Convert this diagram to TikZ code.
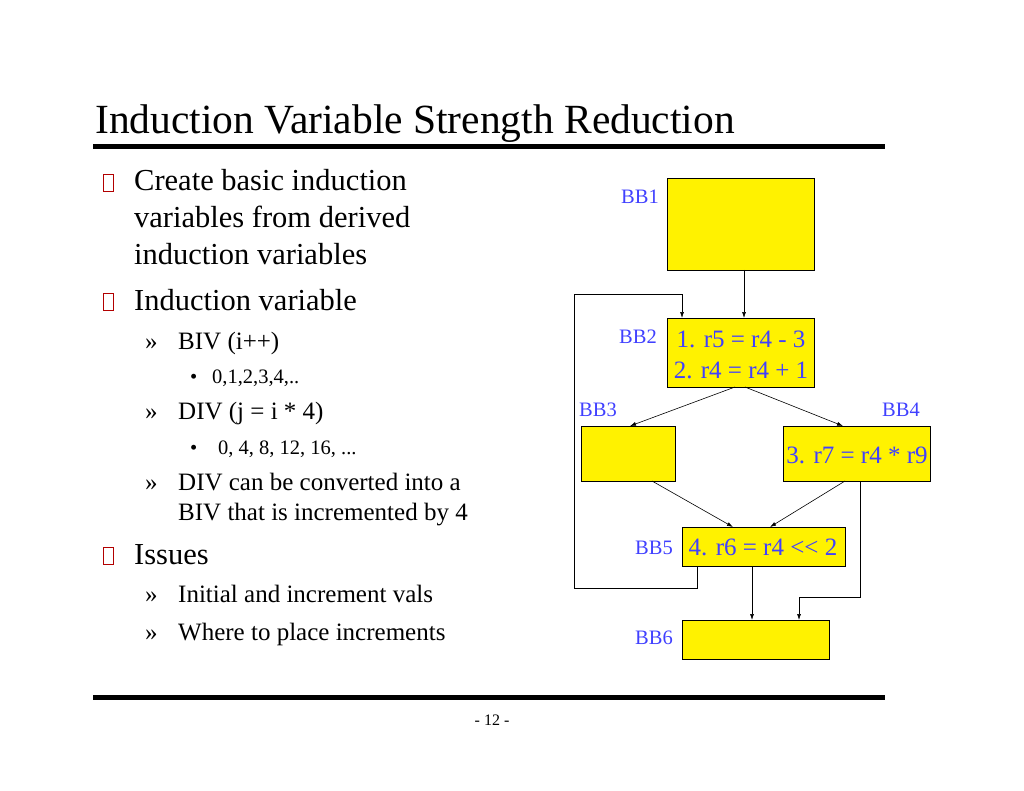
\documentclass[tikz,border=0pt]{standalone}
\usepackage{fontspec}
\setmainfont{Liberation Serif}
\usetikzlibrary{arrows.meta}
\begin{document}
\begin{tikzpicture}[x=1pt,y=-1pt]
\useasboundingbox (0,0) rectangle (1024,791);

% Styles for the slide text and for the flow graph
\tikzstyle{title}=[font=\fontsize{41.5}{44}\selectfont, anchor=base west, inner sep=0]
\tikzstyle{lvlA}=[font=\fontsize{30.5}{34}\selectfont, anchor=base west, inner sep=0]
\tikzstyle{lvlB}=[font=\fontsize{25}{28}\selectfont, anchor=base west, inner sep=0]
\tikzstyle{lvlC}=[font=\fontsize{20.5}{24}\selectfont, anchor=base west, inner sep=0]
\tikzstyle{bb}=[draw=black, fill=yellow, line width=0.8pt]
\tikzstyle{bbname}=[font=\fontsize{20.5}{24}\selectfont, text=blue!75!white, inner sep=0]
\tikzstyle{code}=[font=\fontsize{25}{28}\selectfont, text=blue!75!white, inner sep=0]
\tikzstyle{flow}=[-{Latex[length=6pt,width=4pt]}, line width=0.6pt]

% Title and rules
\node[title] (ttl) at (95,134) {Induction Variable Strength Reduction};
\draw[line width=5pt] (93,147) -- (885,147);
\draw[line width=5pt] (93,697) -- (885,697);
\node[font=\fontsize{16}{18}\selectfont] (pg) at (492,720) {- 12 -};

% This command draws one first level bullet (an empty glyph box)
\newcommand{\boxbullet}[2]{
\draw[red!70!black, line width=0.8pt] (#1-5,#2-17) rectangle ++(10,17);
}

% Bullet text
\boxbullet{108}{191}
\node[lvlA] (t1) at (134,191) {Create basic induction};
\node[lvlA] (t2) at (134,228) {variables from derived};
\node[lvlA] (t3) at (134,265) {induction variables};
\boxbullet{108}{310}
\node[lvlA] (t4) at (134,310) {Induction variable};
\node[lvlB] (b5) at (145,349) {»}; \node[lvlB] (t5) at (178,349) {BIV (i++)};
\node[lvlC] (b6) at (190,383) {\textbullet}; \node[lvlC] (t6) at (212,383) {0,1,2,3,4,..};
\node[lvlB] (b7) at (145,419) {»}; \node[lvlB] (t7) at (178,419) {DIV (j = i * 4)};
\node[lvlC] (b8) at (190,454) {\textbullet}; \node[lvlC] (t8) at (218,454) {0, 4, 8, 12, 16, ...};
\node[lvlB] (b9) at (145,490) {»}; \node[lvlB] (t9) at (178,490) {DIV can be converted into a};
\node[lvlB] (t10) at (178,520) {BIV that is incremented by 4};
\boxbullet{108}{564}
\node[lvlA] (t11) at (134,564) {Issues};
\node[lvlB] (b12) at (145,602) {»}; \node[lvlB] (t12) at (178,602) {Initial and increment vals};
\node[lvlB] (b13) at (145,640) {»}; \node[lvlB] (t13) at (178,640) {Where to place increments};

% Basic blocks
\draw[bb] (667,178) rectangle (814,270);
\coordinate (bb1s) at (744,270);
\draw[bb] (667,318) rectangle (814,387);
\coordinate (bb2n) at (744,318);
\draw[bb] (581,426) rectangle (675,481);
\draw[bb] (783,426) rectangle (930,481);
\draw[bb] (682,527) rectangle (845,566);
\draw[bb] (682,620) rectangle (829,659);

\node[bbname] (n1) at (640,197) {BB1};
\node[bbname] (n2) at (638,337) {BB2};
\node[bbname] (n3) at (598,410) {BB3};
\node[bbname] (n4) at (901,410) {BB4};
\node[bbname] (n5) at (654,548) {BB5};
\node[bbname] (n6) at (654,638) {BB6};

\node[code] (c1) at (741,339) {1. r5 = r4 - 3};
\node[code] (c2) at (741,370) {2. r4 = r4 + 1};
\node[code] (c3) at (857,455) {3. r7 = r4 * r9};
\node[code] (c4) at (763,547) {4. r6 = r4 {<}{<} 2};

% Edges
\draw[flow] (bb1s) -- (bb2n);
\draw[flow] (735,387) -- (630,426);
\draw[flow] (745,387) -- (843,426);
\draw[flow] (652,481) -- (733,527);
\draw[flow] (845,481) -- (770,527);
\draw[flow] (752,566) -- (752,620);
\draw[flow] (697,566) -- (697,588) -- (574,588) -- (574,294) -- (682,294) -- (682,318);
\draw[flow] (860,481) -- (860,597) -- (799,597) -- (799,620);
\end{tikzpicture}
\end{document}
